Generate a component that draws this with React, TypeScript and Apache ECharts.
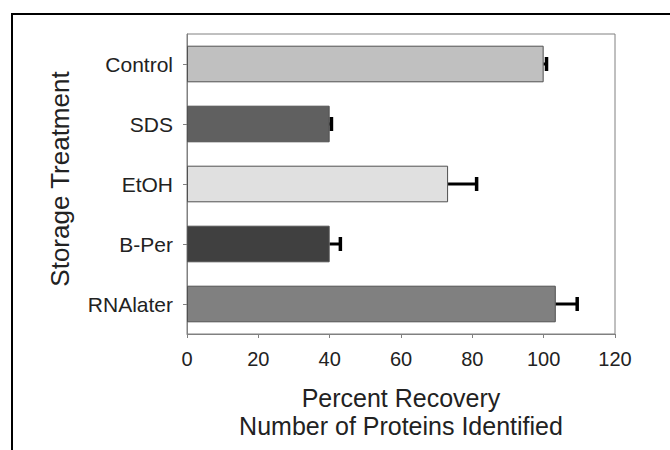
import React, { useEffect, useRef } from "react";
import * as echarts from "echarts";

const categories = ["Control", "SDS", "EtOH", "B-Per", "RNAlater"];
const recovery = [100, 40, 73.2, 40, 103.4];
const errors = [0.8, 0.5, 8, 3, 6];
const barColors = ["#c0c0c0", "#606060", "#e0e0e0", "#404040", "#808080"];
const xTicks = [0, 20, 40, 60, 80, 100, 120];

const FONT = "'Liberation Sans', Arial, sans-serif";

export default function App() {
  const ref = useRef<HTMLDivElement>(null);

  useEffect(() => {
    if (!ref.current) return;
    const chart = echarts.init(ref.current, null, { renderer: "svg" });

    const errData = recovery.map((v, i) => [v, errors[i], i]);

    chart.setOption({
      animation: false,
      backgroundColor: "#ffffff",
      textStyle: { fontFamily: FONT },
      grid: {
        left: 187,
        right: 55,
        top: 34,
        bottom: 116,
        show: true,
        borderColor: "#808080",
        borderWidth: 1,
        backgroundColor: "transparent",
      },
      xAxis: {
        type: "value",
        min: xTicks[0],
        max: xTicks[xTicks.length - 1],
        interval: 20,
        axisLine: { show: true, lineStyle: { color: "#808080", width: 1 } },
        axisTick: { show: true, length: 4, lineStyle: { color: "#808080" } },
        splitLine: { show: false },
        axisLabel: { color: "#222", fontSize: 20, margin: 15, fontFamily: FONT },
        name: "Percent Recovery\nNumber of Proteins Identified",
        nameLocation: "middle",
        nameGap: 50,
        nameTextStyle: {
          color: "#222",
          fontSize: 25,
          lineHeight: 28,
          fontFamily: FONT,
          verticalAlign: "top",
        },
      },
      yAxis: {
        type: "category",
        data: categories,
        inverse: true,
        axisLine: { show: true, lineStyle: { color: "#808080", width: 1 } },
        axisTick: { show: true, length: 4, alignWithLabel: true, lineStyle: { color: "#808080" } },
        axisLabel: { color: "#222", fontSize: 21, margin: 14, fontFamily: FONT },
      },
      graphic: [
        {
          type: "rect",
          shape: { x: 12, y: 14, width: 720, height: 500 },
          style: { fill: "transparent", stroke: "#000", lineWidth: 2 },
          silent: true,
        },
        {
          type: "text",
          x: 60,
          y: 179,
          rotation: Math.PI / 2,
          style: {
            text: "Storage Treatment",
            fontSize: 26,
            fontFamily: FONT,
            fill: "#222",
            align: "center",
            verticalAlign: "middle",
          },
        },
      ],
      series: [
        {
          type: "bar",
          data: recovery.map((v, i) => ({
            value: v,
            itemStyle: { color: barColors[i] },
          })),
          barCategoryGap: "39%",
          itemStyle: { borderColor: "#505050", borderWidth: 1 },
          z: 2,
        },
        {
          type: "custom",
          data: errData,
          encode: { x: 0, y: 2 },
          z: 3,
          renderItem: (params: any, api: any) => {
            const v = api.value(0);
            const e = api.value(1);
            const idx = api.value(2);
            const p0 = api.coord([v, idx]);
            const p1 = api.coord([v + e, idx]);
            const half = 7;
            return {
              type: "group",
              children: [
                {
                  type: "line",
                  shape: { x1: p0[0], y1: p0[1], x2: p1[0], y2: p1[1] },
                  style: { stroke: "#000", lineWidth: 3 },
                },
                {
                  type: "line",
                  shape: { x1: p1[0], y1: p1[1] - half, x2: p1[0], y2: p1[1] + half },
                  style: { stroke: "#000", lineWidth: 3.5 },
                },
              ],
            };
          },
        },
      ],
    });

    return () => chart.dispose();
  }, []);

  return (
    <div
      ref={ref}
      style={{ position: "fixed", left: 0, top: 0, width: 670, height: 450, background: "#fff" }}
    />
  );
}
